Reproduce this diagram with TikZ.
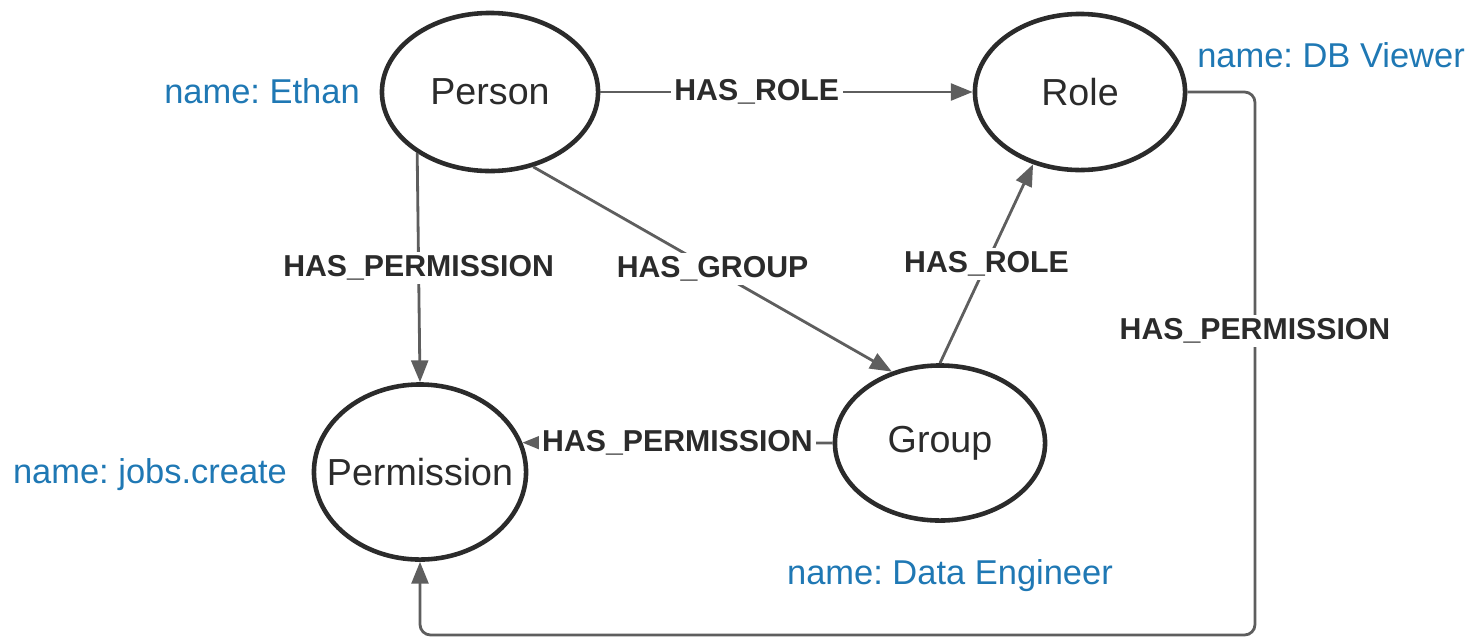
\documentclass[tikz,border=0pt]{standalone}
\usepackage{fontspec}
\setmainfont{Liberation Sans}
\usepackage{tikz}
\usetikzlibrary{shapes.geometric,arrows.meta}
\definecolor{namecol}{HTML}{1F78B4}
\definecolor{edgecol}{HTML}{5E5E5E}
\definecolor{inkcol}{HTML}{2B2B2B}
\frenchspacing

\begin{document}
\begin{tikzpicture}[x=0.01cm,y=-0.01cm,
    entity/.style={draw=inkcol,ellipse,line width=1.3pt,inner sep=0pt,text=inkcol,font=\fontsize{10.7}{12}\selectfont},
    rel/.style={draw=edgecol,line width=0.8pt,-{Triangle[length=6.2pt,width=4.8pt]}},
    rellabel/.style={fill=white,inner sep=1pt,text=inkcol,font=\bfseries\fontsize{8.6}{10}\selectfont},
    propname/.style={text=namecol,font=\fontsize{9.8}{11}\selectfont}]

\useasboundingbox (0,0) rectangle (1470,639);


 \node[entity,minimum width=2.16cm,minimum height=1.58cm] (Person) at (490,92) {Person};
 \node[entity,minimum width=2.10cm,minimum height=1.56cm] (Role) at (1080,92) {Role};
 \node[entity,inner xsep=-5.5pt,minimum width=2.12cm,minimum height=1.75cm] (Permission) at (420,472) {Permission};
 \node[entity,minimum width=2.10cm,minimum height=1.55cm] (Group) at (940,443) {Group};

 \node[propname] (EthanName) at (262,91) {name: Ethan};
 \node[propname] (ViewerName) at (1331,55) {name: DB Viewer};
 \node[propname] (JobsName) at (150,475) {name: jobs.create};
 \node[propname] (EngineerName) at (950,576) {name: Data Engineer};

 \coordinate (BottomTurn) at (1255,635);


\draw[rel] (Person.east) -- (Role.west) node[rellabel,pos=0.42] {HAS\_ROLE};

\draw[rel] (Person.220) -- (Permission.north) node[rellabel,midway] {HAS\_PERMISSION};

\draw[rel] (Person.-60) -- (Group.124) node[rellabel,midway] {HAS\_GROUP};

\draw[rel] (Group.north) -- (Role.-123) node[rellabel,midway] {HAS\_ROLE};

\draw[rel] (Group.west) -- (Permission.16) node[rellabel,midway] {HAS\_PERMISSION};

\draw[rel,rounded corners=3pt] (Role.east) -| (BottomTurn) node[rellabel,pos=0.72] {HAS\_PERMISSION} -| (Permission.south);


\end{tikzpicture}
\end{document}
